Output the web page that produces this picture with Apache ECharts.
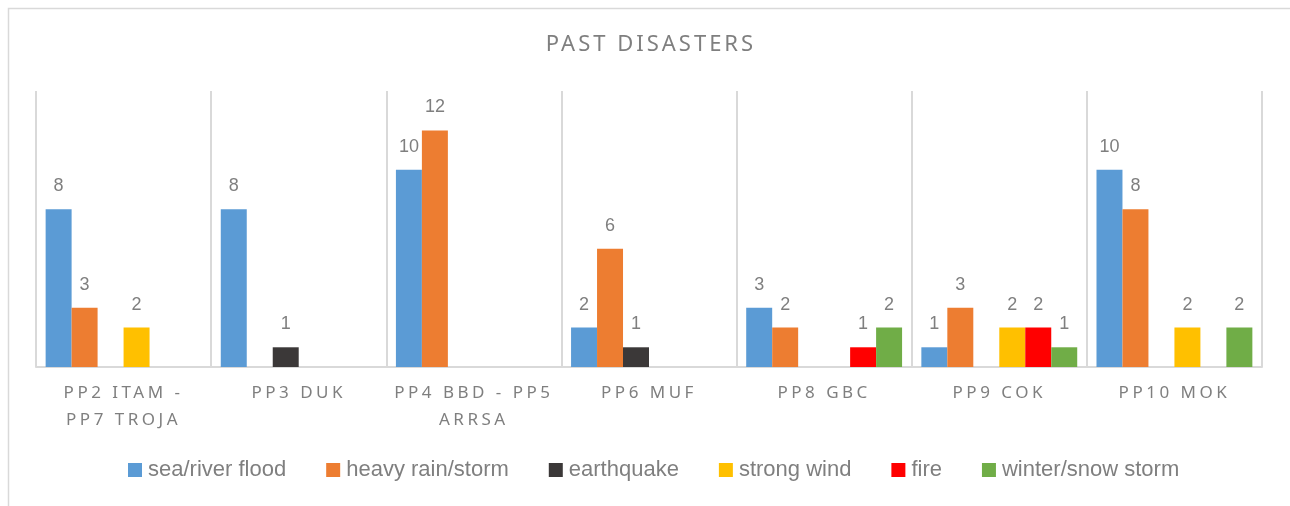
<!DOCTYPE html>
<html>
<head>
<meta charset="utf-8">
<script src="https://cdn.jsdelivr.net/npm/echarts@6/dist/echarts.min.js"></script>
<style>
html,body{margin:0;padding:0;background:#fff;}
#chart{width:1290px;height:506px;}
</style>
</head>
<body>
<div id="chart"></div>
<script>
// ---- data ----
const categories = ['PP2 ITAM - PP7 TROJA', 'PP3 DUK', 'PP4 BBD - PP5 ARRSA', 'PP6 MUF', 'PP8 GBC', 'PP9 COK', 'PP10 MOK'];
const tickLabels = ['PP2 ITAM -\nPP7 TROJA', 'PP3 DUK', 'PP4 BBD - PP5\nARRSA', 'PP6 MUF', 'PP8 GBC', 'PP9 COK', 'PP10 MOK'];
const seriesNames = ['sea/river flood', 'heavy rain/storm', 'earthquake', 'strong wind', 'fire', 'winter/snow storm'];
const seaRiverFlood = [8, 8, 10, 2, 3, 1, 10];
const heavyRainStorm = [3, null, 12, 6, 2, 3, 8];
const earthquake = [null, 1, null, 1, null, null, null];
const strongWind = [2, null, null, null, null, 2, 2];
const fire = [null, null, null, null, 1, 2, null];
const winterSnowStorm = [null, null, null, null, 2, 1, 2];
const seriesValues = [seaRiverFlood, heavyRainStorm, earthquake, strongWind, fire, winterSnowStorm];
const colors = ['#5b9bd5', '#ed7d31', '#3b3838', '#ffc000', '#ff0000', '#70ad47'];

// letter-spaced text (title and category labels) use the "Noto Sans" family
(function(){
  const proto = CanvasRenderingContext2D.prototype;
  const orig = proto.fillText;
  proto.fillText = function(t, x, y, m){
    if ('letterSpacing' in this) {
      this.letterSpacing = /Noto Sans/.test(this.font) ? (/2[0-9]px/.test(this.font) ? '3px' : '3.5px') : '0px';
    }
    return m === undefined ? orig.call(this, t, x, y) : orig.call(this, t, x, y, m);
  };
})();

const chart = echarts.init(document.getElementById('chart'), null, {renderer: 'canvas'});
const textGray = '#7f7f7f';
const option = {
  animation: false,
  title: {
    text: 'PAST DISASTERS',
    left: 646, top: 29, textAlign: 'center',
    textStyle: {fontFamily: 'Noto Sans', fontSize: 22, fontWeight: 'normal', color: textGray}
  },
  graphic: [{
    type: 'rect', left: 6, top: 6, silent: true,
    shape: {width: 1320, height: 540},
    style: {fill: 'none', stroke: '#d9d9d9', lineWidth: 1.5}
  }],
  legend: {
    bottom: 20, left: 123,
    itemWidth: 14, itemHeight: 14, itemGap: 40,
    icon: 'rect',
    textStyle: {fontFamily: 'Liberation Sans', fontSize: 22, color: textGray, padding: [0,0,0,1]},
    data: seriesNames
  },
  grid: {left: 36, right: 28, top: 91, bottom: 139, containLabel: false},
  xAxis: {
    type: 'category',
    data: categories,
    axisLine: {show: true, lineStyle: {color: '#d9d9d9', width: 2}},
    axisTick: {show: false},
    splitLine: {show: true, lineStyle: {color: '#d9d9d9', width: 2}},
    axisLabel: {
      interval: 0, margin: 13,
      fontFamily: 'Noto Sans', fontSize: 17, color: textGray, lineHeight: 27,
      formatter: function(v, i){ return tickLabels[i]; }
    }
  },
  yAxis: {
    type: 'value', min: 0, max: 14, interval: 2,
    show: false, splitLine: {show: false}
  },
  series: seriesNames.map(function(name, i){
    return {
      name: name, type: 'bar',
      data: seriesValues[i],
      barGap: '0%', barCategoryGap: '11%',
      itemStyle: {color: colors[i]},
      label: {
        show: true, position: 'top', distance: 14,
        fontFamily: 'Liberation Sans', fontSize: 18, color: textGray
      }
    };
  })
};
chart.setOption(option);
</script>
</body>
</html>
